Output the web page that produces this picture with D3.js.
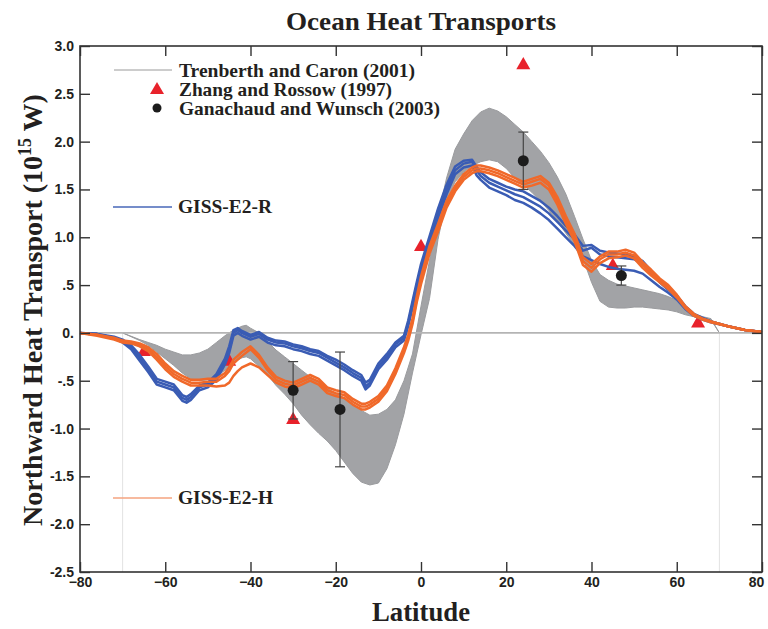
<!DOCTYPE html>
<html>
<head>
<meta charset="utf-8">
<script src="https://cdn.jsdelivr.net/npm/d3@7"></script>
<style>
  body { margin: 0; background: #fff; }
  svg { display: block; font-family: "Liberation Serif", "Times New Roman", serif; font-weight: bold; }
</style>
</head>
<body>
<div id="chart"></div>
<script>
/* Ocean heat transports — Trenberth & Caron band, obs points, GISS ensembles */

// ---- axis ticks ----
const X_TICKS = [-80, -60, -40, -20, 0, 20, 40, 60, 80];
const Y_TICKS = [-2.5, -2.0, -1.5, -1.0, -0.5, 0, 0.5, 1.0, 1.5, 2.0, 2.5, 3.0];
const Y_LABELS = ['-2.5', '-2.0', '-1.5', '-1.0', '-.5', '0.', '.5', '1.0', '1.5', '2.0', '2.5', '3.0'];

// ---- Trenberth and Caron (2001) envelope ----
const TC_LAT = [
  -70, -66, -64, -62, -60, -58, -56, -54, -52, -50,
  -48, -46, -44, -42, -41, -40, -38, -36, -34, -32,
  -30, -28, -26, -24, -22, -20, -18, -16, -14, -12,
  -10, -8, -6, -4, -2, 0, 2, 4, 6, 8,
  10, 12, 14, 16, 18, 20, 22, 24, 26, 28,
  30, 32, 34, 36, 38, 40, 42, 44, 46, 48,
  50, 52, 54, 56, 58, 60, 62, 64, 66, 68,
  70];
const TC_HI = [
  0, -0.07, -0.10, -0.13, -0.17, -0.20, -0.23, -0.23, -0.21, -0.17,
  -0.10, -0.03, 0.03, 0.07, 0.08, 0.05, 0.00, -0.09, -0.18, -0.25,
  -0.32, -0.39, -0.46, -0.52, -0.58, -0.63, -0.68, -0.74, -0.81, -0.86,
  -0.85, -0.80, -0.70, -0.50, -0.22, 0.28, 0.76, 1.22, 1.62, 1.92,
  2.08, 2.22, 2.31, 2.35, 2.32, 2.26, 2.18, 2.10, 2.00, 1.90,
  1.78, 1.63, 1.45, 1.22, 0.98, 0.76, 0.61, 0.55, 0.51, 0.49,
  0.47, 0.45, 0.43, 0.41, 0.38, 0.34, 0.26, 0.20, 0.17, 0.15,
  0];
const TC_LO = [
  0, -0.08, -0.13, -0.20, -0.27, -0.34, -0.42, -0.48, -0.50, -0.49,
  -0.46, -0.39, -0.31, -0.26, -0.25, -0.27, -0.35, -0.44, -0.55, -0.64,
  -0.74, -0.86, -0.96, -1.05, -1.13, -1.23, -1.35, -1.47, -1.56, -1.59,
  -1.57, -1.42, -1.17, -0.85, -0.42, -0.02, 0.36, 0.98, 1.40, 1.58,
  1.68, 1.75, 1.79, 1.81, 1.79, 1.72, 1.62, 1.55, 1.47, 1.38,
  1.28, 1.17, 1.04, 0.92, 0.78, 0.53, 0.33, 0.27, 0.26, 0.26,
  0.27, 0.27, 0.26, 0.25, 0.24, 0.22, 0.19, 0.17, 0.15, 0.14,
  0];

// ---- model latitude grid ----
const LAT = [
  -80, -76, -72, -70, -68, -66, -64, -62, -60, -58,
  -56, -55, -54, -52, -50, -48, -46, -45, -44, -43,
  -42, -40, -38, -36, -34, -32, -30, -28, -26, -24,
  -22, -20, -18, -16, -14, -13, -12, -10, -8, -6,
  -4, -3, -2, -1, 0, 2, 4, 6, 8, 10,
  12, 13, 14, 16, 18, 20, 22, 24, 26, 28,
  30, 32, 34, 36, 38, 40, 42, 44, 46, 48,
  50, 52, 54, 56, 58, 60, 62, 64, 66, 68,
  72, 76, 80];

// GISS-E2-R ensemble members
const E2R_1 = [
  0, -0.01, -0.05, -0.08, -0.15, -0.26, -0.38, -0.51, -0.54, -0.57,
  -0.68, -0.70, -0.67, -0.57, -0.54, -0.46, -0.30, -0.18, 0.00, 0.03,
  0.00, -0.04, -0.01, -0.07, -0.10, -0.11, -0.14, -0.16, -0.19, -0.21,
  -0.26, -0.31, -0.36, -0.42, -0.47, -0.56, -0.52, -0.35, -0.25, -0.12,
  -0.05, 0.10, 0.30, 0.50, 0.68, 0.97, 1.25, 1.50, 1.70, 1.77,
  1.79, 1.70, 1.64, 1.57, 1.53, 1.49, 1.45, 1.42, 1.37, 1.32,
  1.25, 1.16, 1.07, 0.98, 0.86, 0.89, 0.82, 0.80, 0.79, 0.78,
  0.77, 0.72, 0.62, 0.53, 0.45, 0.38, 0.27, 0.19, 0.15, 0.12,
  0.07, 0.03, 0.01];
const E2R_2 = [
  0, -0.01, -0.04, -0.07, -0.13, -0.23, -0.35, -0.48, -0.51, -0.54,
  -0.65, -0.67, -0.64, -0.55, -0.52, -0.43, -0.27, -0.14, 0.03, 0.05,
  0.02, -0.02, 0.01, -0.05, -0.08, -0.09, -0.12, -0.14, -0.17, -0.19,
  -0.24, -0.28, -0.33, -0.39, -0.44, -0.52, -0.49, -0.32, -0.22, -0.10,
  -0.03, 0.13, 0.33, 0.53, 0.72, 1.01, 1.30, 1.55, 1.74, 1.80,
  1.81, 1.74, 1.68, 1.61, 1.57, 1.53, 1.50, 1.48, 1.43, 1.38,
  1.31, 1.22, 1.12, 1.03, 0.91, 0.92, 0.86, 0.84, 0.83, 0.82,
  0.80, 0.75, 0.65, 0.56, 0.47, 0.39, 0.28, 0.20, 0.16, 0.12,
  0.07, 0.03, 0.01];
const E2R_3 = [
  0, -0.02, -0.06, -0.10, -0.17, -0.29, -0.41, -0.54, -0.57, -0.60,
  -0.71, -0.73, -0.70, -0.60, -0.57, -0.49, -0.33, -0.21, -0.03, 0.00,
  -0.03, -0.07, -0.04, -0.10, -0.13, -0.14, -0.17, -0.19, -0.22, -0.24,
  -0.29, -0.34, -0.39, -0.45, -0.50, -0.59, -0.55, -0.38, -0.28, -0.15,
  -0.08, 0.07, 0.26, 0.46, 0.64, 0.93, 1.20, 1.45, 1.66, 1.73,
  1.75, 1.65, 1.60, 1.52, 1.48, 1.44, 1.39, 1.36, 1.31, 1.25,
  1.18, 1.09, 1.00, 0.91, 0.80, 0.76, 0.72, 0.69, 0.67, 0.66,
  0.65, 0.62, 0.55, 0.48, 0.42, 0.35, 0.25, 0.18, 0.14, 0.11,
  0.07, 0.03, 0.01];

// GISS-E2-H ensemble members
const E2H_1 = [
  0, -0.02, -0.06, -0.09, -0.10, -0.12, -0.17, -0.25, -0.35, -0.43,
  -0.48, -0.50, -0.52, -0.52, -0.51, -0.51, -0.45, -0.40, -0.32, -0.28,
  -0.24, -0.17, -0.26, -0.39, -0.49, -0.53, -0.55, -0.51, -0.47, -0.51,
  -0.60, -0.63, -0.65, -0.72, -0.77, -0.77, -0.75, -0.69, -0.58, -0.40,
  -0.18, -0.05, 0.12, 0.35, 0.55, 0.87, 1.10, 1.35, 1.51, 1.63,
  1.70, 1.72, 1.72, 1.70, 1.67, 1.63, 1.59, 1.55, 1.58, 1.61,
  1.54, 1.38, 1.18, 1.00, 0.75, 0.68, 0.77, 0.82, 0.82, 0.84,
  0.81, 0.71, 0.63, 0.55, 0.48, 0.39, 0.27, 0.19, 0.15, 0.12,
  0.07, 0.03, 0.01];
const E2H_2 = [
  0, -0.02, -0.05, -0.08, -0.09, -0.11, -0.15, -0.22, -0.32, -0.40,
  -0.45, -0.47, -0.49, -0.49, -0.48, -0.48, -0.42, -0.36, -0.28, -0.24,
  -0.20, -0.14, -0.23, -0.36, -0.46, -0.50, -0.52, -0.48, -0.44, -0.48,
  -0.57, -0.60, -0.62, -0.69, -0.74, -0.74, -0.72, -0.66, -0.55, -0.37,
  -0.15, -0.02, 0.15, 0.38, 0.59, 0.91, 1.14, 1.38, 1.54, 1.66,
  1.73, 1.75, 1.75, 1.73, 1.70, 1.66, 1.62, 1.58, 1.61, 1.64,
  1.57, 1.42, 1.22, 1.04, 0.79, 0.72, 0.80, 0.85, 0.85, 0.87,
  0.84, 0.74, 0.66, 0.57, 0.50, 0.40, 0.28, 0.20, 0.15, 0.12,
  0.07, 0.03, 0.01];
const E2H_3 = [
  0, -0.03, -0.07, -0.10, -0.11, -0.14, -0.19, -0.28, -0.38, -0.46,
  -0.51, -0.53, -0.55, -0.55, -0.55, -0.56, -0.55, -0.52, -0.45, -0.40,
  -0.36, -0.32, -0.36, -0.44, -0.52, -0.56, -0.58, -0.54, -0.50, -0.54,
  -0.63, -0.66, -0.68, -0.75, -0.80, -0.80, -0.78, -0.72, -0.61, -0.43,
  -0.21, -0.08, 0.09, 0.32, 0.51, 0.83, 1.06, 1.31, 1.48, 1.60,
  1.67, 1.69, 1.69, 1.67, 1.64, 1.60, 1.56, 1.52, 1.54, 1.57,
  1.50, 1.34, 1.14, 0.96, 0.71, 0.64, 0.73, 0.78, 0.79, 0.81,
  0.78, 0.68, 0.60, 0.53, 0.46, 0.37, 0.26, 0.18, 0.14, 0.11,
  0.07, 0.03, 0.01];

// ---- Zhang and Rossow (1997) ----
const ZR_LAT = [-65, -45, -30, 0, 24, 45, 65];
const ZR_VAL = [-0.20, -0.30, -0.91, 0.90, 2.80, 0.70, 0.10];

// ---- Ganachaud and Wunsch (2003) ----
const GW_LAT = [-30, -19, 24, 47];
const GW_VAL = [-0.60, -0.80, 1.80, 0.60];
const GW_ERR = [0.30, 0.60, 0.30, 0.10];

const COLOR = {
  band: '#a2a3a6',
  bandLine: '#9a9b9e',
  zero: '#b4b4b4',
  e2r: '#3a5cb4',
  e2h: '#f0692a',
  tri: '#e8222b',
  dot: '#1c1c1c',
  ink: '#231f20',
};

const W = 768, H = 629;
const svg = d3.select('#chart').append('svg').attr('width', W).attr('height', H);

const x = d3.scaleLinear().domain([-80, 80]).range([80, 762]);
const y = d3.scaleLinear().domain([-2.5, 3.0]).range([572, 46]);

// Faint vertical guides where the Trenberth data stop
svg.selectAll('.guide')
  .data([-70, 70])
  .enter().append('line')
  .attr('x1', d => x(d)).attr('x2', d => x(d))
  .attr('y1', y(0)).attr('y2', y(-2.5))
  .attr('stroke', '#e2e2e2').attr('stroke-width', 1);

// Trenberth band
const bandData = TC_LAT.map((l, i) => ({ lat: l, hi: TC_HI[i], lo: TC_LO[i] }));
const area = d3.area()
  .x(d => x(d.lat)).y0(d => y(d.lo)).y1(d => y(d.hi));
svg.append('path')
  .datum(bandData)
  .attr('d', area)
  .attr('fill', COLOR.band)
  .attr('stroke', COLOR.bandLine)
  .attr('stroke-width', 1);

// Zero line
svg.append('line')
  .attr('x1', x(-80)).attr('x2', x(80))
  .attr('y1', y(0)).attr('y2', y(0))
  .attr('stroke', COLOR.zero).attr('stroke-width', 1.6);

// Zhang & Rossow triangles (under the model lines)
const tri = d3.symbol().type(d3.symbolTriangle).size(85);
svg.append('g').selectAll('path')
  .data(ZR_LAT.map((l, i) => [l, ZR_VAL[i]]))
  .enter().append('path')
  .attr('d', tri)
  .attr('transform', d => `translate(${x(d[0])},${y(d[1])})`)
  .attr('fill', COLOR.tri);

// Model ensembles — thin members packed into a thick bundle
const line = d3.line().x(d => x(d[0])).y(d => y(d[1]));
function drawMembers(members, color) {
  const g = svg.append('g');
  members.forEach((vals) => {
    g.append('path')
      .datum(LAT.map((l, i) => [l, vals[i]]))
      .attr('d', line)
      .attr('fill', 'none')
      .attr('stroke', color)
      .attr('stroke-width', 2.5)
      .attr('stroke-linejoin', 'round');
  });
}
drawMembers([E2R_1, E2R_2, E2R_3], COLOR.e2r);
drawMembers([E2H_1, E2H_2, E2H_3], COLOR.e2h);

// Ganachaud & Wunsch dots with error bars
const gw = GW_LAT.map((l, i) => ({ lat: l, v: GW_VAL[i], e: GW_ERR[i] }));
const gwG = svg.append('g');
gw.forEach((d) => {
  const cx = x(d.lat);
  gwG.append('line')
    .attr('x1', cx).attr('x2', cx)
    .attr('y1', y(d.v + d.e)).attr('y2', y(d.v - d.e))
    .attr('stroke', '#444').attr('stroke-width', 1.2);
  [d.v + d.e, d.v - d.e].forEach((v) => {
    gwG.append('line')
      .attr('x1', cx - 5).attr('x2', cx + 5)
      .attr('y1', y(v)).attr('y2', y(v))
      .attr('stroke', '#444').attr('stroke-width', 1.2);
  });
  gwG.append('circle')
    .attr('cx', cx).attr('cy', y(d.v)).attr('r', 5.5)
    .attr('fill', COLOR.dot);
});

// Axes — ticks point inward on all four sides
function styleAxis(g) {
  g.select('.domain').remove();
  g.selectAll('.tick line').attr('stroke', '#333').attr('stroke-width', 1.4);
  g.selectAll('.tick text')
    .attr('fill', COLOR.ink)
    .style('font-size', '14px')
    .style('font-weight', 'bold');
}
const xAxisG = svg.append('g')
  .attr('transform', `translate(0,${y(-2.5)})`)
  .call(d3.axisBottom(x).tickValues(X_TICKS).tickSize(-10).tickPadding(5))
  .call(styleAxis);
// keep the last label inside the picture, as in the original
xAxisG.selectAll('.tick text').filter(d => d === 80).attr('dx', -6);
svg.append('g')
  .attr('transform', `translate(0,${y(3.0)})`)
  .call(d3.axisTop(x).tickValues(X_TICKS).tickSize(-10).tickFormat(''))
  .call(styleAxis);
svg.append('g')
  .attr('transform', `translate(${x(-80)},0)`)
  .call(d3.axisLeft(y).tickValues(Y_TICKS).tickSize(-10).tickPadding(6)
    .tickFormat((d, i) => Y_LABELS[i]))
  .call(styleAxis);
svg.append('g')
  .attr('transform', `translate(${x(80)},0)`)
  .call(d3.axisRight(y).tickValues(Y_TICKS).tickSize(-10).tickFormat(''))
  .call(styleAxis);

// Frame
svg.append('rect')
  .attr('x', x(-80)).attr('y', y(3.0))
  .attr('width', x(80) - x(-80)).attr('height', y(-2.5) - y(3.0))
  .attr('fill', 'none').attr('stroke', '#333').attr('stroke-width', 1.6);

// Titles
svg.append('text')
  .attr('x', 421).attr('y', 30)
  .attr('text-anchor', 'middle')
  .attr('fill', COLOR.ink)
  .attr('textLength', 270).attr('lengthAdjust', 'spacingAndGlyphs')
  .style('font-size', '26px')
  .text('Ocean Heat Transports');

svg.append('text')
  .attr('x', 421).attr('y', 621)
  .attr('text-anchor', 'middle')
  .attr('fill', COLOR.ink)
  .attr('textLength', 98).attr('lengthAdjust', 'spacingAndGlyphs')
  .style('font-size', '28px')
  .text('Latitude');

const yl = svg.append('text')
  .attr('transform', 'translate(42,310) rotate(-90)')
  .attr('text-anchor', 'middle')
  .attr('fill', COLOR.ink)
  .style('font-size', '28px');
yl.append('tspan').text('Northward Heat Transport (10');
yl.append('tspan').attr('dy', -11).style('font-size', '18px').text('15');
yl.append('tspan').attr('dy', 11).text(' W)');

// Legend
const legend = svg.append('g').style('font-size', '19px').attr('fill', COLOR.ink);
function legendText(tx, ty, str, len) {
  legend.append('text').attr('x', tx).attr('y', ty)
    .attr('textLength', len).attr('lengthAdjust', 'spacingAndGlyphs')
    .text(str);
}
legend.append('line')
  .attr('x1', 114).attr('x2', 172).attr('y1', 70).attr('y2', 70)
  .attr('stroke', '#9a9a9a').attr('stroke-width', 1);
legendText(179, 77, 'Trenberth and Caron (2001)', 236);
legend.append('path')
  .attr('d', tri)
  .attr('transform', 'translate(157,90)')
  .attr('fill', COLOR.tri);
legendText(179, 96, 'Zhang and Rossow (1997)', 213);
legend.append('circle').attr('cx', 157).attr('cy', 108).attr('r', 4.5).attr('fill', COLOR.dot);
legendText(179, 115, 'Ganachaud and Wunsch (2003)', 261);

legend.append('line')
  .attr('x1', 113).attr('x2', 172).attr('y1', 207).attr('y2', 207)
  .attr('stroke', '#4767b8').attr('stroke-width', 1.6);
legendText(178, 213, 'GISS-E2-R', 94);

legend.append('line')
  .attr('x1', 113).attr('x2', 172).attr('y1', 498).attr('y2', 498)
  .attr('stroke', '#f4a37f').attr('stroke-width', 1.6);
legendText(178, 504, 'GISS-E2-H', 95);
</script>
</body>
</html>
